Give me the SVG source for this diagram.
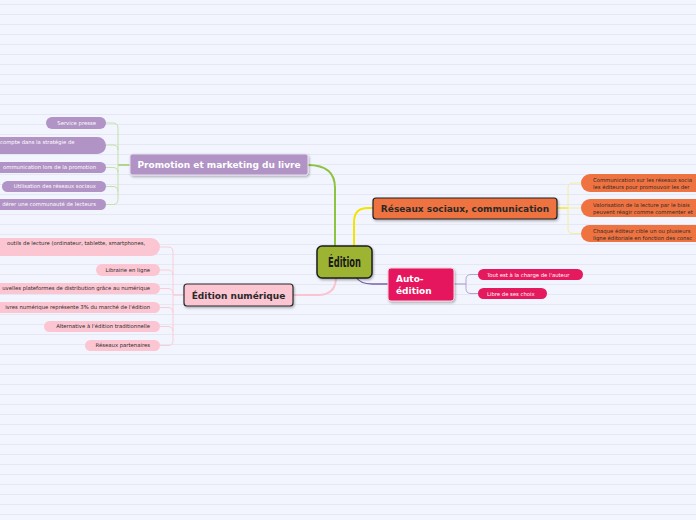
<svg xmlns="http://www.w3.org/2000/svg" width="696" height="520" viewBox="0 0 696 520">
<defs>
<pattern id="bgp" patternUnits="userSpaceOnUse" width="696" height="10">
<rect width="696" height="10" fill="#f2f5fe"/>
<line x1="0" y1="4.5" x2="696" y2="4.5" stroke="#e5e8f2" stroke-width="1"/>
</pattern>
<filter id="sh" x="-10%" y="-20%" width="130%" height="160%">
<feDropShadow dx="1" dy="1.5" stdDeviation="1" flood-color="#000" flood-opacity="0.3"/>
</filter>
</defs>
<style>
.main{font-family:"DejaVu Sans",Verdana,sans-serif;font-weight:bold;font-size:9px}
.sub{font-family:"DejaVu Sans",Verdana,sans-serif;font-size:5.3px}
.w{fill:#ffffff}
.d{fill:#2a2a2a}
.c{fill:none}
.pur{fill:#b193c5}
.org{fill:#ef7340}
.pnk{fill:#fbc6d2}
.red{fill:#e5195d}
</style>
<rect width="696" height="520" fill="url(#bgp)"/>

<g id="connectors" class="c">
<path d="M308,165 Q335,165 335,188 L335,247" stroke="#8dc33f" stroke-width="2" fill="none"/>
<path d="M354,247 L354,222 Q354,208 368,208 L373,208" stroke="#f2e400" stroke-width="2" fill="none"/>
<path d="M356,277 Q360,284 372,284 L388,284" stroke="#7b62a8" stroke-width="1.3" fill="none"/>
<path d="M336,277 Q336,295 318,295 L293,295" stroke="#f9c5d0" stroke-width="2" fill="none"/>
<path d="M130,165 L118,165" stroke="#8dc33f" stroke-width="1.2" fill="none"/>
<path d="M106,123 L113,123 Q118,123 118,128 L118,199.5 Q118,204.5 113,204.5 L106,204.5 M106,145 L113,145 Q118,145 118,150 M106,167.5 L113,167.5 Q118,167.5 118,172.5 M106,186.5 L113,186.5 Q118,186.5 118,191.5" stroke="#c3e0a6" stroke-width="1" fill="none"/>
<path d="M184,295 L173,295" stroke="#f9c5d0" stroke-width="1.2" fill="none"/>
<path d="M160,247 L168,247 Q173,247 173,252 L173,340.5 Q173,345.5 168,345.5 L160,345.5 M160,270 L168,270 Q173,270 173,275 M160,288.5 L168,288.5 Q173,288.5 173,293.5 M160,307.5 L168,307.5 Q173,307.5 173,312.5 M160,326.5 L168,326.5 Q173,326.5 173,331.5" stroke="#f9cdd7" stroke-width="1" fill="none"/>
<path d="M557,208 L568,208" stroke="#f2e400" stroke-width="1.2" fill="none"/>
<path d="M581,183 L573,183 Q568,183 568,188 L568,228.5 Q568,233.5 573,233.5 L581,233.5 M568,208 L581,208" stroke="#f3ee9c" stroke-width="1" fill="none"/>
<path d="M454,284 L466,284" stroke="#b3a3d3" stroke-width="1.2" fill="none"/>
<path d="M478,274.5 L471,274.5 Q466,274.5 466,279.5 L466,288.5 Q466,293.5 471,293.5 L478,293.5" stroke="#b3a3d3" stroke-width="1" fill="none"/>
</g>

<g id="root">
<rect x="317" y="246" width="55" height="32" rx="5" fill="#9db330" stroke="#1e1e1e" stroke-width="1.5" filter="url(#sh)"/>
<text x="344.5" y="267" text-anchor="middle" font-family="'DejaVu Sans Condensed','DejaVu Sans',sans-serif" font-weight="bold" font-size="14" textLength="33" lengthAdjust="spacingAndGlyphs" fill="#1a1a1a">Édition</text>
</g>

<g id="promotion">
<rect x="130" y="154" width="178" height="21" rx="2.5" class="pur" stroke="#e8e0f0" stroke-width="1" filter="url(#sh)"/>
<text x="219" y="168" text-anchor="middle" class="main w">Promotion et marketing du livre</text>
</g>
<g id="p1"><rect x="46" y="117" width="60" height="12" rx="6" class="pur"/><text x="96" y="124.8" text-anchor="end" class="sub w">Service presse</text></g>
<g id="p2"><rect x="-20" y="137" width="126" height="17" rx="8.5" class="pur"/><text x="0" y="143.8" class="sub w">compte dans la stratégie de</text></g>
<g id="p3"><rect x="-20" y="162" width="126" height="11" rx="5.5" class="pur"/><text x="96" y="169.3" text-anchor="end" class="sub w">ommunication lors de la promotion</text></g>
<g id="p4"><rect x="2" y="181" width="104" height="11" rx="5.5" class="pur"/><text x="96" y="188.3" text-anchor="end" class="sub w">Utilisation des réseaux sociaux</text></g>
<g id="p5"><rect x="-20" y="199" width="126" height="11" rx="5.5" class="pur"/><text x="96" y="206.3" text-anchor="end" class="sub w">dérer une communauté de lecteurs</text></g>

<g id="reseaux">
<rect x="373" y="198" width="184" height="21" rx="3" class="org" stroke="#1e1e1e" stroke-width="1.2" filter="url(#sh)"/>
<text x="465" y="212" text-anchor="middle" class="main d" fill="#111">Réseaux sociaux, communication</text>
</g>
<g id="r1"><rect x="581" y="174" width="140" height="18" rx="9" class="org"/><text x="593" y="182" class="sub d">Communication sur les réseaux socia</text><text x="593" y="189" class="sub d">les éditeurs pour promouvoir les der</text></g>
<g id="r2"><rect x="581" y="199" width="140" height="18" rx="9" class="org"/><text x="593" y="207" class="sub d">Valorisation de la lecture par le biais</text><text x="593" y="214" class="sub d">peuvent réagir comme commenter et</text></g>
<g id="r3"><rect x="581" y="225" width="140" height="17" rx="8.5" class="org"/><text x="593" y="232.5" class="sub d">Chaque éditeur cible un ou plusieurs</text><text x="593" y="239.5" class="sub d">ligne éditoriale en fonction des consc</text></g>

<g id="auto">
<rect x="388" y="268" width="66" height="33" rx="3" class="red" stroke="#f3d0dc" stroke-width="1" filter="url(#sh)"/>
<text x="396" y="282" class="main w">Auto-</text>
<text x="396" y="294" class="main w">édition</text>
</g>
<g id="a1"><rect x="478" y="269" width="105" height="11" rx="5.5" class="red"/><text x="487" y="276.6" class="sub w">Tout est à la charge de l'auteur</text></g>
<g id="a2"><rect x="478" y="288" width="69" height="11" rx="5.5" class="red"/><text x="487" y="295.6" class="sub w">Libre de ses choix</text></g>

<g id="numerique">
<rect x="184" y="284" width="109" height="22" rx="3" class="pnk" stroke="#2a2a2a" stroke-width="1.2" filter="url(#sh)"/>
<text x="238.5" y="298.5" text-anchor="middle" class="main d" fill="#111">Édition numérique</text>
</g>
<g id="n1"><rect x="-20" y="238" width="180" height="18" rx="9" class="pnk"/><text x="7" y="245" class="sub d">outils de lecture (ordinateur, tablette, smartphones,</text></g>
<g id="n2"><rect x="96" y="264" width="64" height="12" rx="6" class="pnk"/><text x="150" y="271.8" text-anchor="end" class="sub d">Librairie en ligne</text></g>
<g id="n3"><rect x="-20" y="283" width="180" height="11" rx="5.5" class="pnk"/><text x="150" y="290.3" text-anchor="end" class="sub d">uvelles plateformes de distribution grâce au numérique</text></g>
<g id="n4"><rect x="-20" y="302" width="180" height="11" rx="5.5" class="pnk"/><text x="150" y="309.3" text-anchor="end" class="sub d">ivres numérique représente 3% du marché de l'édition</text></g>
<g id="n5"><rect x="44" y="321" width="116" height="11" rx="5.5" class="pnk"/><text x="150" y="328.3" text-anchor="end" class="sub d">Alternative à l'édition traditionnelle</text></g>
<g id="n6"><rect x="85" y="340" width="75" height="11" rx="5.5" class="pnk"/><text x="150" y="347.3" text-anchor="end" class="sub d">Réseaux partenaires</text></g>
</svg>
